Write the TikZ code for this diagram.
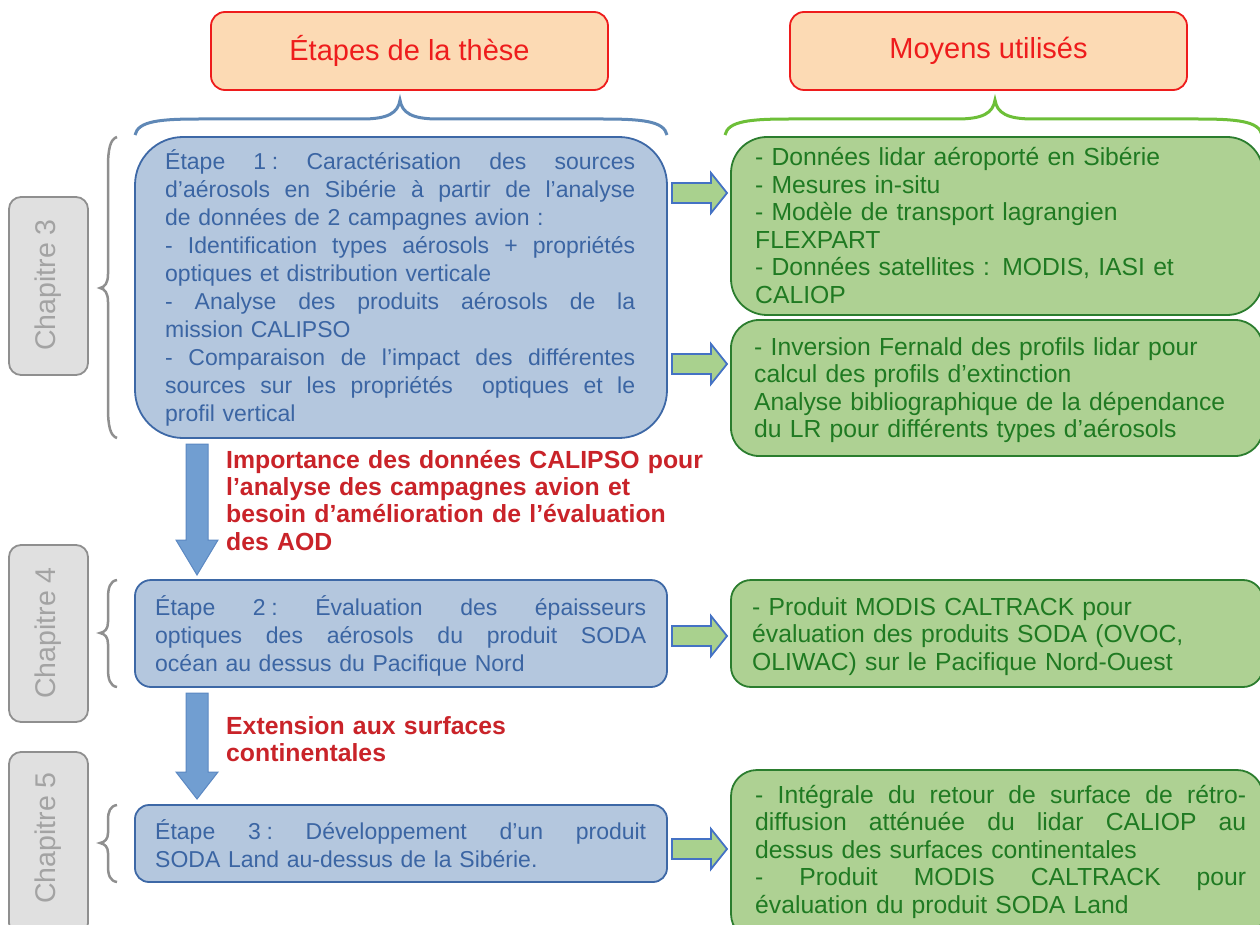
\documentclass[tikz,border=0pt]{standalone}
\usepackage{fontspec}
\setmainfont{Liberation Sans}
\definecolor{hdrfill}{HTML}{FCDAB4}
\definecolor{hdrred}{HTML}{EE1C1C}
\definecolor{bfill}{HTML}{B4C7DE}
\definecolor{bdraw}{HTML}{3D68A6}
\definecolor{btxt}{HTML}{3B65A3}
\definecolor{gfill}{HTML}{AED193}
\definecolor{gdraw}{HTML}{2B7D2E}
\definecolor{gtxt}{HTML}{1F7A22}
\definecolor{bbrace}{HTML}{5F88B6}
\definecolor{gbrace}{HTML}{6DBF38}
\definecolor{rafill}{HTML}{A9D18E}
\definecolor{radraw}{HTML}{4472C4}
\definecolor{dafill}{HTML}{719ED1}
\definecolor{dadraw}{HTML}{5B88C2}
\definecolor{redtxt}{HTML}{C92329}
\definecolor{chfill}{HTML}{E0E0E0}
\definecolor{chdraw}{HTML}{8F8F8F}
\definecolor{chtxt}{HTML}{A3A3A3}
\newcommand{\jl}[2]{\leavevmode\hbox to #1pt{\frenchspacing\spaceskip=0.278em plus 1fil\relax\xspaceskip=\spaceskip #2}}
\begin{document}
\begin{tikzpicture}[x=1pt,y=-1pt,
  hdr/.style={draw=hdrred, fill=hdrfill, line width=1.8pt, rounded corners=14pt,
    minimum width=397pt, minimum height=78pt, text=hdrred, font=\fontsize{29}{33}\selectfont},
  bbox/.style={draw=bdraw, fill=bfill, line width=1.8pt},
  gbox/.style={draw=gdraw, fill=gfill, line width=1.8pt},
  chbox/.style={draw=chdraw, fill=chfill, line width=1.8pt, rounded corners=12pt,
    minimum width=79pt},
  chtext/.style={text=chtxt, rotate=90, font=\fontsize{28.5}{32}\selectfont, inner sep=0pt},
  btext/.style={text=btxt, font=\fontsize{23}{28}\selectfont, inner sep=0pt,
    anchor=base west, align=left},
  gtext/.style={text=gtxt, font=\fontsize{24.7}{27.6}\selectfont, inner sep=0pt,
    anchor=base west, align=left, text width=491pt},
  rtext/.style={text=redtxt, font=\bfseries\fontsize{24.8}{27.4}\selectfont, inner sep=0pt,
    anchor=base west, align=left, text width=500pt},
  bbr/.style={draw=bbrace, line width=3pt},
  gbr/.style={draw=gbrace, line width=3pt},
  vbr/.style={draw=chdraw, line width=2.5pt},
  rarrow/.style={draw=radraw, fill=rafill, line width=1.8pt, line join=miter},
  darrow/.style={draw=dadraw, fill=dafill, line width=1pt, line join=miter}
]
\useasboundingbox (0,0) rectangle (1260,925);

% headers
\node[hdr] (h1) at (409.5,51) {Étapes de la thèse};
\node[hdr] (h2) at (988.5,51) {Moyens utilisés};

% top braces
\draw[bbr] (135,135) .. controls (138,121) and (160,119) .. (200,119) -- (362,119)
  .. controls (388,119) and (398,113) .. (400,100)
  .. controls (402,113) and (412,119) .. (438,119) -- (602,119)
  .. controls (642,119) and (664,121) .. (667,135);
\draw[gbr] (725,135) .. controls (728,121) and (750,119) .. (790,119) -- (957,119)
  .. controls (983,119) and (993,113) .. (995,100)
  .. controls (997,113) and (1007,119) .. (1033,119) -- (1197,119)
  .. controls (1237,119) and (1259,121) .. (1262,135);

% chapter boxes
\node[chbox, minimum height=178pt] (c3) at (48.5,286) {};
\node[chtext] (c3t) at (48,285) {Chapitre 3};
\node[chbox, minimum height=177pt] (c4) at (48.5,633.5) {};
\node[chtext] (c4t) at (48,633) {Chapitre 4};
\node[chbox, minimum height=183pt] (c5) at (48.5,843.5) {};
\node[chtext] (c5t) at (48,838) {Chapitre 5};

% left braces
\draw[vbr] (117,137) .. controls (110,139) and (108,150) .. (108,167) -- (108,274)
  .. controls (108,283) and (105,287) .. (100,288)
  .. controls (105,289) and (108,293) .. (108,302) -- (108,408)
  .. controls (108,425) and (110,436) .. (117,438);
\draw[vbr] (117,580) .. controls (110,581) and (108,588) .. (108,598) -- (108,622)
  .. controls (108,629) and (105,632) .. (100,633)
  .. controls (105,634) and (108,637) .. (108,644) -- (108,669)
  .. controls (108,679) and (110,686) .. (117,687);
\draw[vbr] (117,805) .. controls (110,806) and (108,812) .. (108,820) -- (108,833)
  .. controls (108,839) and (105,842) .. (100,843)
  .. controls (105,844) and (108,847) .. (108,853) -- (108,866)
  .. controls (108,875) and (110,881) .. (117,882);

% blue boxes
\node[bbox, rounded corners=48pt, minimum width=532pt, minimum height=301pt] (b1) at (401,287.5) {};
\node[bbox, rounded corners=16pt, minimum width=532pt, minimum height=107pt] (b2) at (401,633.5) {};
\node[bbox, rounded corners=14pt, minimum width=532pt, minimum height=77pt] (b3) at (401,843.5) {};

\node[btext, text width=470pt] (b1t) at (165,170) {%
\jl{470}{Étape 1\kern0.25em: Caractérisation des sources}\\
\jl{470}{d’aérosols en Sibérie à partir de l’analyse}\\
de données de 2 campagnes avion :\\
\jl{470}{- Identification types aérosols + propriétés}\\
optiques et distribution verticale\\
\jl{470}{- Analyse des produits aérosols de la}\\
mission CALIPSO\\
\jl{470}{- Comparaison de l’impact des différentes}\\
\jl{470}{sources sur les propriétés\ \ optiques et le}\\
profil vertical};

\node[btext, text width=491pt] (b2t) at (155,615) {%
\jl{491}{Étape 2\kern0.25em: Évaluation des épaisseurs}\\
\jl{491}{optiques des aérosols du produit SODA}\\
océan au dessus du Pacifique Nord};

\node[btext, text width=491pt] (b3t) at (155,839) {%
\jl{491}{Étape 3\kern0.25em: Développement d’un produit}\\
SODA Land au-dessus de la Sibérie.};

% green boxes
\node[gbox, rounded corners=36pt, minimum width=532pt, minimum height=178pt] (g1) at (997,226) {};
\node[gbox, rounded corners=28pt, minimum width=532pt, minimum height=136pt] (g2) at (997,388) {};
\node[gbox, rounded corners=20pt, minimum width=532pt, minimum height=107pt] (g3) at (997,633.5) {};
\node[gbox, rounded corners=26pt, minimum width=532pt, minimum height=170pt] (g4) at (997,855) {};

\node[gtext] (g1t) at (755,165.5) {%
- Données lidar aéroporté en Sibérie\\
- Mesures in-situ\\
- Modèle de transport lagrangien\\
FLEXPART\\
- Données satellites : MODIS, IASI et\\
CALIOP};

\node[gtext] (g2t) at (754,355) {%
- Inversion Fernald des profils lidar pour\\
calcul des profils d’extinction\\
Analyse bibliographique de la dépendance\\
du LR pour différents types d’aérosols};

\node[gtext] (g3t) at (752,615) {%
- Produit MODIS CALTRACK pour\\
évaluation des produits SODA (OVOC,\\
OLIWAC) sur le Pacifique Nord-Ouest};

\node[gtext] (g4t) at (755,803) {%
\jl{491}{- Intégrale du retour de surface de rétro-}\\
\jl{491}{diffusion atténuée du lidar CALIOP au}\\
dessus des surfaces continentales\\
\jl{491}{- Produit MODIS CALTRACK pour}\\
évaluation du produit SODA Land};

% right block arrows
\foreach \yc in {193, 364, 636, 849}{
  \draw[rarrow, shift={(672,\yc)}] (0,-10) -- (39,-10) -- (39,-20) -- (55,0)
    -- (39,20) -- (39,10) -- (0,10) -- cycle;
}

% down block arrows
\draw[darrow, shift={(197,444)}] (-11,0) -- (11,0) -- (11,96) -- (21,96) -- (0,131)
  -- (-21,96) -- (-11,96) -- cycle;
\draw[darrow, shift={(197,693)}] (-11,0) -- (11,0) -- (11,79) -- (21,79) -- (0,106)
  -- (-21,79) -- (-11,79) -- cycle;

% red texts
\node[rtext] (r1) at (226,468) {%
Importance des données CALIPSO pour\\
l’analyse des campagnes avion et\\
besoin d’amélioration de l’évaluation\\
des AOD};
\node[rtext] (r2) at (226,734) {%
Extension aux surfaces\\
continentales};
\end{tikzpicture}
\end{document}
